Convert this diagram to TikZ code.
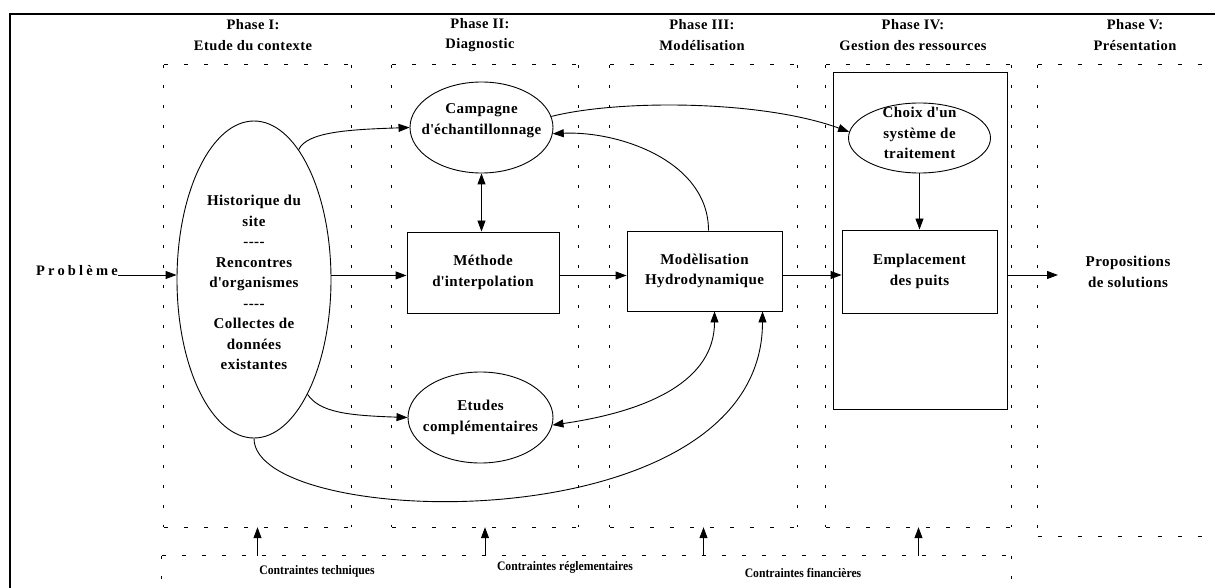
\documentclass[tikz,border=0pt]{standalone}
\usepackage{fontspec}
\setmainfont{Liberation Serif}
\newfontfamily\spaced{Liberation Serif}[LetterSpace=3]
\newfontfamily\widespaced{Liberation Serif}[LetterSpace=22]
\newfontfamily\narrow{Liberation Serif}[FakeStretch=0.9]
\usetikzlibrary{shapes.geometric,arrows.meta,calc}

\tikzset{
  arr/.style={-{Triangle[length=11pt,width=8pt]}, line width=0.9pt},
  darr/.style={{Triangle[length=11pt,width=8pt]}-{Triangle[length=11pt,width=8pt]}, line width=0.9pt},
  hdash/.style={line width=0.9pt, dash pattern=on 4pt off 16pt},
  vdash/.style={line width=0.9pt, dash pattern=on 3pt off 17pt},
  box/.style={draw, line width=0.9pt, rectangle, inner sep=0pt},
  oval/.style={draw, line width=0.9pt, ellipse, inner sep=0pt},
  txt/.style={font=\spaced\bfseries\fontsize{15}{20.5}\selectfont, align=center},
  head/.style={font=\spaced\bfseries\fontsize{14.5}{20.5}\selectfont, align=center},
  constr/.style={font=\narrow\bfseries\fontsize{13}{15}\selectfont},
  zone/.style={rectangle, inner sep=0pt},
}

\begin{document}
\begin{tikzpicture}[x=1pt,y=-1pt]
\useasboundingbox (0,0) rectangle (1215,588);
\clip (0,0) rectangle (1215,588);

% outer frame
\draw[line width=2pt] (10,620) -- (10,14) -- (1240,14);

% phase zones
\node[zone, minimum width=187, minimum height=462] (p1) at (257.5,296) {};
\node[zone, minimum width=186, minimum height=462] (p2) at (485,296) {};
\node[zone, minimum width=187, minimum height=462] (p3) at (703.5,296) {};
\node[zone, minimum width=185, minimum height=462] (p4) at (918.5,296) {};
\node[zone, minimum width=192, minimum height=471] (p5) at (1134,300.5) {};
\node[zone, minimum width=849, minimum height=64] (consz) at (586.5,588) {};

\foreach \p in {p1,p2,p3,p4,p5}{
  \draw[hdash] (\p.north west) -- (\p.north east);
  \draw[hdash] (\p.south west) -- (\p.south east);
  \draw[vdash] (\p.north west) -- (\p.south west);
  \draw[vdash] (\p.north east) -- (\p.south east);
}
\draw[hdash] (consz.north west) -- (consz.north east);
\draw[vdash] (consz.north west) -- (consz.south west);
\draw[vdash] (consz.north east) -- (consz.south east);

% phase headings
\node[head] (h1) at (253,35) {Phase I:\\Etude du contexte};
\node[head] (h2) at (480,35) {Phase II:\\Diagnostic};
\node[head] (h3) at (702,35) {Phase III:\\Modélisation};
\node[head] (h4) at (913,35) {Phase IV:\\Gestion des ressources};
\node[head] (h5) at (1135,35) {Phase V:\\Présentation};

% phase IV frame
\node[box, minimum width=174, minimum height=337] (p4rect) at (920,240.5) {};

% nodes
\node[oval, minimum width=154, minimum height=317,
  label={[txt, yshift=-3pt]center:Historique du\\site\\-{}-{}-{}-\\Rencontres\\d\textquotesingle organismes\\-{}-{}-{}-\\Collectes de\\données\\existantes}]
  (hist) at (254,279.5) {};
\node[oval, minimum width=143, minimum height=91,
  label={[txt, yshift=7pt]center:Campagne\\d\textquotesingle échantillonnage}]
  (camp) at (481.5,127.5) {};
\node[oval, minimum width=145, minimum height=91,
  label={[txt]center:Etudes\\complémentaires}]
  (etud) at (480.5,417.5) {};
\node[oval, minimum width=142, minimum height=70,
  label={[txt, yshift=5pt]center:Choix d\textquotesingle un\\système de\\traitement}]
  (choix) at (919.5,138) {};
\node[box, txt, minimum width=152, minimum height=81] (meth) at (483,272.5) {Méthode\\d\textquotesingle interpolation};
\node[box, txt, minimum width=155, minimum height=80] (mod) at (704.5,271) {Modèlisation\\Hydrodynamique};
\node[box, txt, minimum width=155, minimum height=83] (empl) at (919.5,271.5) {Emplacement\\des puits};

\node[font=\widespaced\bfseries\fontsize{14.5}{16}\selectfont, anchor=base east, inner sep=0pt] (prob) at (118,275) {Problème};
\node[txt] (prop) at (1128,272) {Propositions\\de solutions};
\coordinate (propin) at (1058,275);

% straight connectors
\draw[arr] (prob.base east) -- (prob.base east -| hist.west);
\draw[arr] (hist.3) -- (hist.3 -| meth.west);
\draw[arr] ([yshift=-3pt]meth.east) -- ([yshift=-3pt]meth.east -| mod.west);
\draw[arr] ([yshift=-4pt]mod.east) -- ([yshift=-4pt]mod.east -| empl.west);
\draw[arr] (p4rect.east |- propin) -- (propin);
\draw[darr] (camp.south) -- (camp.south |- meth.north);
\draw[arr] (choix.south) -- (choix.south |- empl.north);

% curved connectors
\draw[arr] (hist.71) .. controls +(8,-18) and +(-60,2) .. (camp.west);
\draw[arr] (hist.-65) .. controls +(12,18) and +(-60,-2) .. (etud.west);
\draw[arr] (camp.9) .. controls +(67,-17) and +(-88,-32) .. (choix.175);
\draw[arr] ([xshift=4pt]mod.north) .. controls +(0,-70) and +(65,-3) .. (camp.-5);
\draw[darr] (etud.-6) .. controls +(97,-14) and +(0,69) .. ([xshift=10pt]mod.south);
\draw[arr] (hist.south) .. controls +(0,92) and +(0,234) .. ([xshift=58pt]mod.south);

% constraints
\foreach \p in {p1,p2,p3,p4}{
  \draw[arr] (\p.south |- consz.north) -- (\p.south);
}
\node[constr] (c1) at (317,571) {Contraintes techniques};
\node[constr] (c2) at (565,567) {Contraintes réglementaires};
\node[constr] (c3) at (803,573) {Contraintes financières};
\end{tikzpicture}
\end{document}
